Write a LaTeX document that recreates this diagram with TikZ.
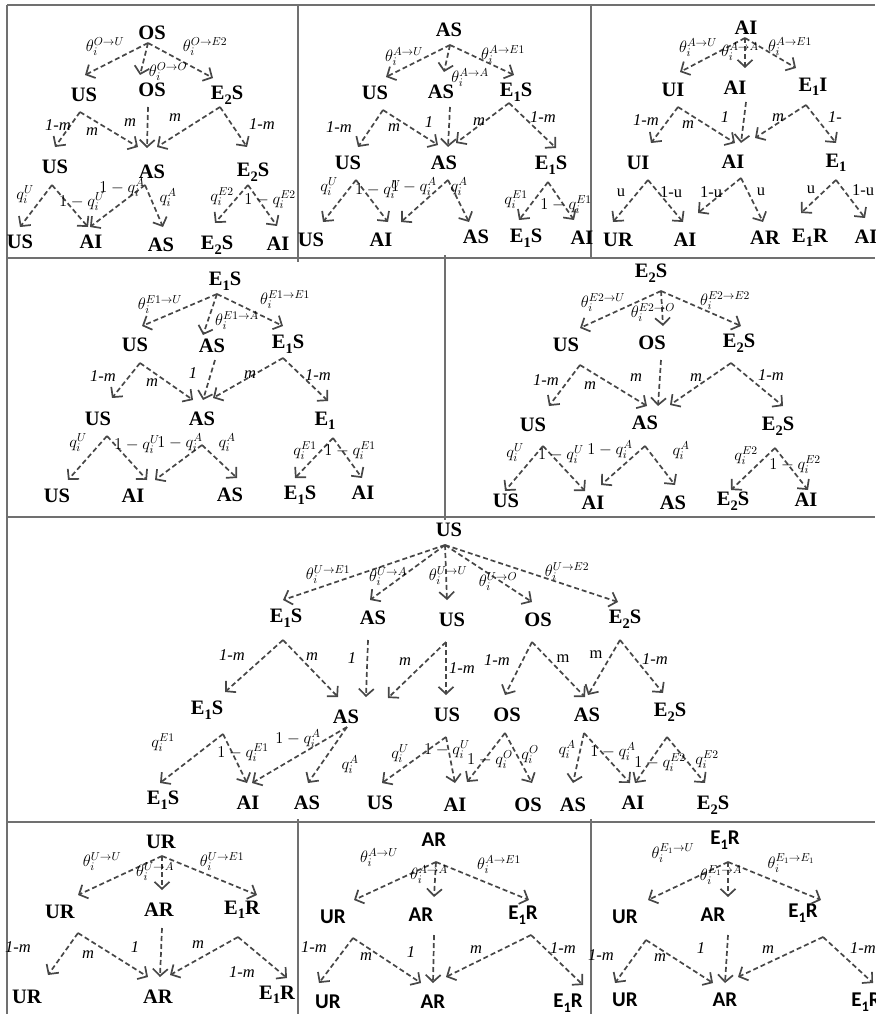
\RequirePackage{fix-cm}
\documentclass[tikz,border=0pt]{standalone}
\usepackage{fontspec}
\setmainfont{Liberation Serif}
\newfontfamily\sansb{Carlito}
\usetikzlibrary{arrows.meta}
\definecolor{arrowgray}{HTML}{474747}
\definecolor{rulegray}{HTML}{707070}
% lowered digit for state names such as E1S
\newcommand\sbn[1]{\raisebox{-0.22em}{\fontsize{14.5}{14.5}\selectfont #1}}
% dashed transition arrow from a branch point to a shifted spot above a state
\newcommand\ed[3]{\draw[e] (#1) -- ([shift={(#3)}]#2.center);}

\begin{document}
\begin{tikzpicture}[x=1pt,y=-1pt,
  nd/.style={font=\fontsize{20.5}{20.5}\selectfont\bfseries, inner sep=0pt},
  nds/.style={font=\fontsize{21}{21}\selectfont\sansb\bfseries, inner sep=0pt},
  lb/.style={font=\fontsize{16.5}{16.5}\selectfont, inner sep=0pt},
  li/.style={font=\fontsize{16.5}{16.5}\selectfont\itshape, inner sep=0pt},
  e/.style={draw=arrowgray, line width=1.7pt, dash pattern=on 5pt off 3pt,
            -{Straight Barb[length=7pt,width=15pt,line width=1.7pt]}},
  rule/.style={draw=rulegray, line width=1.2pt}]
\useasboundingbox (0,0) rectangle (875,1014);

% ---------- table rules ----------
\draw[rule] (7,5) -- (875,5);
\draw[rule] (7,5) -- (7,1014);
\draw[rule] (7,258) -- (875,258);
\draw[rule] (7,517) -- (875,517);
\draw[rule] (7,822) -- (875,822);
\draw[rule] (298,5) -- (298,262);
\draw[rule] (591,5) -- (591,258);
\draw[rule] (445,255) -- (445,520);
\draw[rule] (298,819) -- (298,1014);
\draw[rule] (591,819) -- (591,1014);

% ---------- OS ----------
\node[nd] (a0) at (152,33) {OS};
\node[nd] (a1) at (84,95) {US};
\node[nd] (a2) at (152,90) {OS};
\node[nd] (a3) at (227,95) {E\sbn{2}S};
\node[nd] (a4) at (55,167) {US};
\node[nd] (a5) at (152,172) {AS};
\node[nd] (a6) at (253,172) {E\sbn{2}S};
\node[nd] (a7) at (20,242) {US};
\node[nd] (a8) at (91,242) {AI};
\node[nd] (a9) at (161,245) {AS};
\node[nd] (a10) at (217,245) {E\sbn{2}S};
\node[nd] (a11) at (278,244) {AI};
\coordinate (a0a) at (148,43);
\coordinate (a1a) at (80,112);
\coordinate (a2a) at (148,107);
\coordinate (a3a) at (220,107);
\coordinate (a4a) at (52,185);
\coordinate (a5a) at (145,185);
\coordinate (a6a) at (248,185);
\ed{a0a}{a1}{1,-20}
\ed{a0a}{a2}{-12,-15}
\ed{a0a}{a3}{-14,-17}
\ed{a1a}{a4}{0,-20}
\ed{a1a}{a5}{-14,-25}
\ed{a2a}{a5}{-5,-24}
\ed{a3a}{a5}{5,-25}
\ed{a3a}{a6}{-6,-25}
\ed{a4a}{a7}{0,-15}
\ed{a4a}{a8}{-3,-15}
\ed{a5a}{a8}{-1,-15}
\ed{a5a}{a9}{2,-18}
\ed{a6a}{a10}{-2,-22}
\ed{a6a}{a11}{-1,-18}
\node[lb] (al1) at (105,47) {$\theta_i^{O\to U}$};
\node[lb] (al2) at (205,47) {$\theta_i^{O\to E2}$};
\node[lb] (al3) at (168,72) {$\theta_i^{O\to O}$};
\node[li] (al4) at (58,125) {1-m};
\node[li] (al5) at (92,132) {m};
\node[li] (al6) at (130,123) {m};
\node[li] (al7) at (175,118) {m};
\node[li] (al8) at (262,124) {1-m};
\node[lb] (al9) at (25,195) {$q_i^U$};
\node[lb] (al10) at (82,202) {$1-q_i^U$};
\node[lb] (al11) at (122,188) {$1-q_i^A$};
\node[lb] (al12) at (168,198) {$q_i^A$};
\node[lb] (al13) at (222,197) {$q_i^{E2}$};
\node[lb] (al14) at (270,200) {$1-q_i^{E2}$};

% ---------- AS ----------
\node[nd] (b0) at (449,30) {AS};
\node[nd] (b1) at (375,93) {US};
\node[nd] (b2) at (441,92) {AS};
\node[nd] (b3) at (516,92) {E\sbn{1}S};
\node[nd] (b4) at (348,163) {US};
\node[nd] (b5) at (444,163) {AS};
\node[nd] (b6) at (551,165) {E\sbn{1}S};
\node[nd] (b7) at (311,240) {US};
\node[nd] (b8) at (381,240) {AI};
\node[nd] (b9) at (476,237) {AS};
\node[nd] (b10) at (526,238) {E\sbn{1}S};
\node[nd] (b11) at (582,238) {AI};
\coordinate (b0a) at (450,45);
\coordinate (b1a) at (383,110);
\coordinate (b2a) at (450,107);
\coordinate (b3a) at (509,103);
\coordinate (b4a) at (356,180);
\coordinate (b5a) at (448,180);
\coordinate (b6a) at (548,182);
\ed{b0a}{b1}{11,-16}
\ed{b0a}{b2}{3,-20}
\ed{b0a}{b3}{-2,-17}
\ed{b1a}{b4}{10,-16}
\ed{b1a}{b5}{-6,-18}
\ed{b2a}{b5}{4,-16}
\ed{b3a}{b5}{12,-20}
\ed{b3a}{b6}{5,-17}
\ed{b4a}{b7}{12,-18}
\ed{b4a}{b8}{7,-18}
\ed{b5a}{b8}{20,-18}
\ed{b5a}{b9}{-7,-15}
\ed{b6a}{b10}{-7,-18}
\ed{b6a}{b11}{-8,-18}
\node[lb] (bl1) at (404,57) {$\theta_i^{A\to U}$};
\node[lb] (bl2) at (503,55) {$\theta_i^{A\to E1}$};
\node[lb] (bl3) at (470,78) {$\theta_i^{A\to A}$};
\node[li] (bl4) at (339,127) {1-m};
\node[li] (bl5) at (394,128) {m};
\node[li] (bl6) at (429,122) {1};
\node[li] (bl7) at (479,122) {m};
\node[li] (bl8) at (543,117) {1-m};
\node[lb] (bl9) at (329,187) {$q_i^U$};
\node[lb] (bl10) at (378,190) {$1-q_i^U$};
\node[lb] (bl11) at (414,187) {$1-q_i^A$};
\node[lb] (bl12) at (459,187) {$q_i^A$};
\node[lb] (bl13) at (516,200) {$q_i^{E1}$};
\node[lb] (bl14) at (566,205) {$1-q_i^{E1}$};

% ---------- AI ----------
\node[nd] (c0) at (746,28) {AI};
\node[nd] (c1) at (673,90) {UI};
\node[nd] (c2) at (735,88) {AI};
\node[nd] (c3) at (813,87) {E\sbn{1}I};
\node[nd] (c4) at (638,163) {UI};
\node[nd] (c5) at (733,162) {AI};
\node[nd] (c6) at (836,163) {E\sbn{1}};
\node[nd] (c7) at (618,240) {UR};
\node[nd] (c8) at (685,240) {AI};
\node[nd] (c9) at (765,238) {AR};
\node[nd] (c10) at (810,238) {E\sbn{1}R};
\node[nd] (c11) at (866,237) {AI};
\coordinate (c0a) at (745,38);
\coordinate (c1a) at (678,107);
\coordinate (c2a) at (746,102);
\coordinate (c3a) at (806,105);
\coordinate (c4a) at (648,180);
\coordinate (c5a) at (741,178);
\coordinate (c6a) at (836,180);
\ed{c0a}{c1}{7,-18}
\ed{c0a}{c2}{10,-20}
\ed{c0a}{c3}{-17,-19}
\ed{c1a}{c4}{13,-20}
\ed{c1a}{c5}{2,-19}
\ed{c2a}{c5}{8,-19}
\ed{c3a}{c5}{22,-24}
\ed{c3a}{c6}{0,-20}
\ed{c4a}{c7}{-5,-18}
\ed{c4a}{c8}{-2,-18}
\ed{c5a}{c8}{13,-27}
\ed{c5a}{c9}{-2,-16}
\ed{c6a}{c10}{-9,-25}
\ed{c6a}{c11}{-1,-19}
\node[lb] (cl1) at (698,48) {$\theta_i^{A\to U}$};
\node[lb] (cl2) at (790,47) {$\theta_i^{A\to E1}$};
\node[lb] (cl3) at (740,52) {$\theta_i^{A\to A}$};
\node[li] (cl4) at (646,120) {1-m};
\node[li] (cl5) at (688,125) {m};
\node[li] (cl6) at (725,117) {1};
\node[li] (cl7) at (778,118) {m};
\node[li] (cl8) at (835,117) {1-};
\node[lb] (cl9) at (621,193) {u};
\node[lb] (cl10) at (671,192) {1-u};
\node[lb] (cl11) at (711,192) {1-u};
\node[lb] (cl12) at (761,192) {u};
\node[lb] (cl13) at (811,190) {u};
\node[lb] (cl14) at (863,190) {1-u};

% ---------- E1S ----------
\node[nd] (d0) at (225,281) {E\sbn{1}S};
\node[nd] (d1) at (135,345) {US};
\node[nd] (d2) at (212,346) {AS};
\node[nd] (d3) at (288,344) {E\sbn{1}S};
\node[nd] (d4) at (98,419) {US};
\node[nd] (d5) at (202,419) {AS};
\node[nd] (d6) at (325,421) {E\sbn{1}};
\node[nd] (d7) at (57,496) {US};
\node[nd] (d8) at (133,496) {AI};
\node[nd] (d9) at (230,495) {AS};
\node[nd] (d10) at (300,495) {E\sbn{1}S};
\node[nd] (d11) at (363,493) {AI};
\coordinate (d0a) at (217,294);
\coordinate (d1a) at (140,363);
\coordinate (d2a) at (215,360);
\coordinate (d3a) at (283,358);
\coordinate (d4a) at (107,436);
\coordinate (d5a) at (202,445);
\coordinate (d6a) at (333,438);
\ed{d0a}{d1}{7,-19}
\ed{d0a}{d2}{-9,-11}
\ed{d0a}{d3}{-5,-18}
\ed{d1a}{d4}{14,-21}
\ed{d1a}{d5}{-9,-19}
\ed{d2a}{d5}{1,-19}
\ed{d3a}{d5}{11,-21}
\ed{d3a}{d6}{3,-20}
\ed{d4a}{d7}{11,-16}
\ed{d4a}{d8}{14,-16}
\ed{d5a}{d8}{22,-16}
\ed{d5a}{d9}{7,-17}
\ed{d6a}{d10}{-5,-17}
\ed{d6a}{d11}{-1,-15}
\node[lb] (dl1) at (160,305) {$\theta_i^{E1\to U}$};
\node[lb] (dl2) at (285,300) {$\theta_i^{E1\to E1}$};
\node[lb] (dl3) at (237,321) {$\theta_i^{E1\to A}$};
\node[li] (dl4) at (103,376) {1-m};
\node[li] (dl5) at (152,383) {m};
\node[li] (dl6) at (193,373) {1};
\node[li] (dl7) at (250,375) {m};
\node[li] (dl8) at (318,375) {1-m};
\node[lb] (dl9) at (78,443) {$q_i^U$};
\node[lb] (dl10) at (137,445) {$1-q_i^U$};
\node[lb] (dl11) at (180,443) {$1-q_i^A$};
\node[lb] (dl12) at (227,443) {$q_i^A$};
\node[lb] (dl13) at (305,451) {$q_i^{E1}$};
\node[lb] (dl14) at (350,451) {$1-q_i^{E1}$};

% ---------- E2S ----------
\node[nd] (e0) at (651,273) {E\sbn{2}S};
\node[nd] (e1) at (566,345) {US};
\node[nd] (e2) at (652,343) {OS};
\node[nd] (e3) at (739,343) {E\sbn{2}S};
\node[nd] (e4) at (533,425) {US};
\node[nd] (e5) at (645,423) {AS};
\node[nd] (e6) at (778,426) {E\sbn{2}S};
\node[nd] (e7) at (506,501) {US};
\node[nd] (e8) at (593,503) {AI};
\node[nd] (e9) at (673,503) {AS};
\node[nd] (e10) at (733,501) {E\sbn{2}S};
\node[nd] (e11) at (806,500) {AI};
\coordinate (e0a) at (661,291);
\coordinate (e1a) at (580,365);
\coordinate (e2a) at (661,360);
\coordinate (e3a) at (731,363);
\coordinate (e4a) at (543,446);
\coordinate (e5a) at (645,446);
\coordinate (e6a) at (775,448);
\ed{e0a}{e1}{14,-17}
\ed{e0a}{e2}{11,-17}
\ed{e0a}{e3}{2,-17}
\ed{e1a}{e4}{16,-19}
\ed{e1a}{e5}{2,-17}
\ed{e2a}{e5}{13,-17}
\ed{e3a}{e5}{25,-18}
\ed{e3a}{e6}{5,-20}
\ed{e4a}{e7}{-1,-10}
\ed{e4a}{e8}{-8,-12}
\ed{e5a}{e8}{8,-18}
\ed{e5a}{e9}{2,-18}
\ed{e6a}{e10}{-2,-11}
\ed{e6a}{e11}{2,-10}
\node[lb] (el1) at (603,303) {$\theta_i^{E2\to U}$};
\node[lb] (el2) at (725,301) {$\theta_i^{E2\to E2}$};
\node[lb] (el3) at (653,313) {$\theta_i^{E2\to O}$};
\node[li] (el4) at (546,380) {1-m};
\node[li] (el5) at (590,386) {m};
\node[li] (el6) at (636,378) {m};
\node[li] (el7) at (696,378) {m};
\node[li] (el8) at (771,375) {1-m};
\node[lb] (el9) at (515,453) {$q_i^U$};
\node[lb] (el10) at (561,455) {$1-q_i^U$};
\node[lb] (el11) at (610,450) {$1-q_i^A$};
\node[lb] (el12) at (681,451) {$q_i^A$};
\node[lb] (el13) at (746,456) {$q_i^{E2}$};
\node[lb] (el14) at (795,465) {$1-q_i^{E2}$};

% ---------- US ----------
\node[nd] (f0) at (449,530) {US};
\node[nd] (f1) at (286,618) {E\sbn{1}S};
\node[nd] (f2) at (373,618) {AS};
\node[nd] (f3) at (452,620) {US};
\node[nd] (f4) at (538,620) {OS};
\node[nd] (f5) at (625,619) {E\sbn{2}S};
\node[nd] (f6) at (207,710) {E\sbn{1}S};
\node[nd] (f7) at (346,717) {AS};
\node[nd] (f8) at (447,715) {US};
\node[nd] (f9) at (507,715) {OS};
\node[nd] (f10) at (587,715) {AS};
\node[nd] (f11) at (670,712) {E\sbn{2}S};
\node[nd] (f12) at (163,800) {E\sbn{1}S};
\node[nd] (f13) at (248,803) {AI};
\node[nd] (f14) at (307,803) {AS};
\node[nd] (f15) at (380,803) {US};
\node[nd] (f16) at (455,805) {AI};
\node[nd] (f17) at (528,805) {OS};
\node[nd] (f18) at (573,805) {AS};
\node[nd] (f19) at (633,803) {AI};
\node[nd] (f20) at (713,805) {E\sbn{2}S};
\coordinate (f0a) at (445,545);
\coordinate (f1a) at (283,640);
\coordinate (f2a) at (368,640);
\coordinate (f3a) at (446,642);
\coordinate (f4a) at (532,642);
\coordinate (f5a) at (620,640);
\coordinate (f6a) at (223,734);
\coordinate (f7a) at (347,727);
\coordinate (f8a) at (446,737);
\coordinate (f9a) at (505,733);
\coordinate (f10a) at (584,733);
\coordinate (f11a) at (667,737);
\ed{f0a}{f1}{-3,-18}
\ed{f0a}{f2}{-3,-18}
\ed{f0a}{f3}{-5,-20}
\ed{f0a}{f4}{-6,-18}
\ed{f0a}{f5}{-7,-17}
\ed{f1a}{f6}{18,-18}
\ed{f1a}{f7}{-8,-20}
\ed{f2a}{f7}{20,-20}
\ed{f3a}{f7}{42,-19}
\ed{f3a}{f8}{-1,-20}
\ed{f4a}{f9}{-2,-20}
\ed{f4a}{f10}{-2,-18}
\ed{f5a}{f10}{1,-20}
\ed{f5a}{f11}{-7,-19}
\ed{f6a}{f12}{-3,-17}
\ed{f6a}{f13}{-1,-20}
\ed{f7a}{f13}{4,-20}
\ed{f7a}{f14}{1,-20}
\ed{f8a}{f15}{2,-20}
\ed{f8a}{f16}{0,-22}
\ed{f9a}{f16}{12,-23}
\ed{f9a}{f17}{4,-22}
\ed{f10a}{f18}{0,-22}
\ed{f10a}{f19}{-3,-20}
\ed{f11a}{f19}{2,-20}
\ed{f11a}{f20}{-8,-22}
\node[lb] (fl1) at (328,575) {$\theta_i^{U\to E1}$};
\node[lb] (fl2) at (388,577) {$\theta_i^{U\to A}$};
\node[lb] (fl3) at (448,576) {$\theta_i^{U\to U}$};
\node[lb] (fl4) at (498,582) {$\theta_i^{U\to O}$};
\node[lb] (fl5) at (567,572) {$\theta_i^{U\to E2}$};
\node[li] (fl6) at (232,655) {1-m};
\node[li] (fl7) at (312,657) {m};
\node[li] (fl8) at (352,658) {1};
\node[li] (fl9) at (405,662) {m};
\node[li] (fl10) at (462,668) {1-m};
\node[li] (fl11) at (497,660) {1-m};
\node[lb] (fl12) at (563,659) {m};
\node[lb] (fl13) at (596,655) {m};
\node[li] (fl14) at (655,659) {1-m};
\node[lb] (fl15) at (163,743) {$q_i^{E1}$};
\node[lb] (fl16) at (243,753) {$1-q_i^{E1}$};
\node[lb] (fl17) at (298,739) {$1-q_i^A$};
\node[lb] (fl18) at (350,765) {$q_i^A$};
\node[lb] (fl19) at (400,754) {$q_i^U$};
\node[lb] (fl20) at (447,750) {$1-q_i^U$};
\node[lb] (fl21) at (490,760) {$1-q_i^O$};
\node[lb] (fl22) at (530,755) {$q_i^O$};
\node[lb] (fl23) at (567,750) {$q_i^A$};
\node[lb] (fl24) at (613,752) {$1-q_i^A$};
\node[lb] (fl25) at (660,763) {$1-q_i^{E2}$};
\node[lb] (fl26) at (707,760) {$q_i^{E2}$};

% ---------- UR ----------
\node[nd] (g0) at (161,842) {UR};
\node[nd] (g1) at (60,912) {UR};
\node[nd] (g2) at (159,910) {AR};
\node[nd] (g3) at (242,910) {E\sbn{1}R};
\node[nd] (g4) at (27,997) {UR};
\node[nd] (g5) at (158,997) {AR};
\node[nd] (g6) at (277,995) {E\sbn{1}R};
\coordinate (g0a) at (162,856);
\coordinate (g1a) at (78,933);
\coordinate (g2a) at (162,928);
\coordinate (g3a) at (238,937);
\ed{g0a}{g1}{18,-17}
\ed{g0a}{g2}{3,-20}
\ed{g0a}{g3}{15,-15}
\ed{g1a}{g4}{21,-22}
\ed{g1a}{g5}{-10,-20}
\ed{g2a}{g5}{2,-20}
\ed{g3a}{g5}{12,-22}
\ed{g3a}{g6}{10,-17}
\node[lb] (gl1) at (102,862) {$\theta_i^{U\to U}$};
\node[lb] (gl2) at (222,862) {$\theta_i^{U\to E1}$};
\node[lb] (gl3) at (155,872) {$\theta_i^{U\to A}$};
\node[li] (gl4) at (18,947) {1-m};
\node[li] (gl5) at (88,955) {m};
\node[li] (gl6) at (135,947) {1};
\node[li] (gl7) at (198,945) {m};
\node[li] (gl8) at (242,972) {1-m};

% ---------- AR ----------
\node[nds] (h0) at (434,840) {AR};
\node[nds] (h1) at (333,917) {UR};
\node[nds] (h2) at (421,915) {AR};
\node[nds] (h3) at (523,915) {E\sbn{1}R};
\node[nds] (h4) at (328,1002) {UR};
\node[nds] (h5) at (433,1002) {AR};
\node[nds] (h6) at (568,1003) {E\sbn{1}R};
\coordinate (h0a) at (436,862);
\coordinate (h1a) at (353,938);
\coordinate (h2a) at (434,935);
\coordinate (h3a) at (531,935);
\ed{h0a}{h1}{21,-17}
\ed{h0a}{h2}{13,-18}
\ed{h0a}{h3}{6,-15}
\ed{h1a}{h4}{-9,-19}
\ed{h1a}{h5}{-12,-19}
\ed{h2a}{h5}{0,-19}
\ed{h3a}{h5}{13,-25}
\ed{h3a}{h6}{15,-18}
\node[lb] (hl1) at (379,858) {$\theta_i^{A\to U}$};
\node[lb] (hl2) at (499,865) {$\theta_i^{A\to E1}$};
\node[lb] (hl3) at (429,875) {$\theta_i^{A\to A}$};
\node[li] (hl4) at (314,947) {1-m};
\node[li] (hl5) at (366,957) {m};
\node[li] (hl6) at (411,952) {1};
\node[li] (hl7) at (476,950) {m};
\node[li] (hl8) at (563,948) {1-m};

% ---------- E1R ----------
\node[nds] (k0) at (725,840) {E\sbn{1}R};
\node[nds] (k1) at (625,917) {UR};
\node[nds] (k2) at (713,915) {AR};
\node[nds] (k3) at (803,913) {E\sbn{1}R};
\node[nds] (k4) at (625,1000) {UR};
\node[nds] (k5) at (725,1000) {AR};
\node[nds] (k6) at (866,1002) {E\sbn{1}R};
\coordinate (k0a) at (728,862);
\coordinate (k1a) at (646,940);
\coordinate (k2a) at (728,935);
\coordinate (k3a) at (823,937);
\ed{k0a}{k1}{23,-17}
\ed{k0a}{k2}{15,-18}
\ed{k0a}{k3}{18,-13}
\ed{k1a}{k4}{-10,-17}
\ed{k1a}{k5}{-12,-17}
\ed{k2a}{k5}{0,-17}
\ed{k3a}{k5}{13,-23}
\ed{k3a}{k6}{7,-19}
\node[lb] (kl1) at (673,853) {$\theta_i^{E_1\to U}$};
\node[lb] (kl2) at (791,863) {$\theta_i^{E_1\to E_1}$};
\node[lb] (kl3) at (721,875) {$\theta_i^{E_1\to A}$};
\node[li] (kl4) at (601,955) {1-m};
\node[li] (kl5) at (660,958) {m};
\node[li] (kl6) at (701,948) {1};
\node[li] (kl7) at (768,950) {m};
\node[li] (kl8) at (863,948) {1-m};
\end{tikzpicture}
\end{document}
